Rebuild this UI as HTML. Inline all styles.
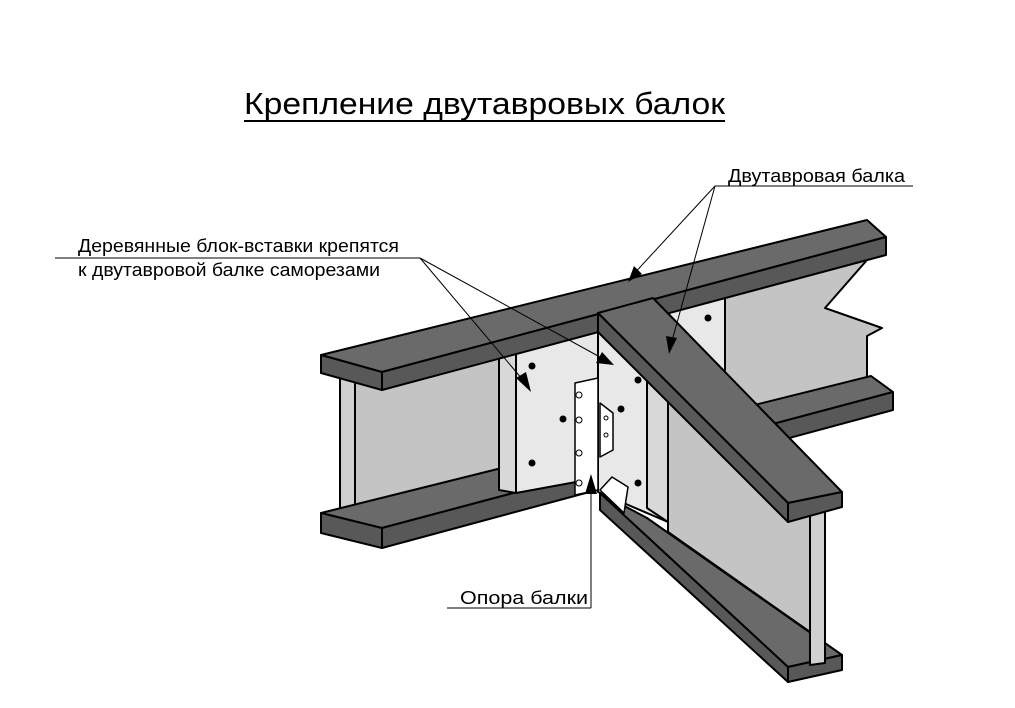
<!DOCTYPE html>
<html><head><meta charset="utf-8"><style>
html,body{margin:0;padding:0;background:#fff;}
svg{display:block;}
text{font-family:"Liberation Sans",Arial,sans-serif;fill:#000;}
</style></head><body>
<svg width="1015" height="708" viewBox="0 0 1015 708" xmlns="http://www.w3.org/2000/svg">
<rect width="1015" height="708" fill="#fff"/>
<text x="244" y="114" font-size="31" textLength="481" lengthAdjust="spacingAndGlyphs">Крепление двутавровых балок</text>
<line x1="244" y1="121" x2="725" y2="121" stroke="#000" stroke-width="2"/>

<g stroke="#000" stroke-width="2" stroke-linejoin="round">
<polygon points="340,373 867,238 867,260 825,308 882,328 867,336 867,392 340,530" fill="#c4c4c4"/>
<polygon points="340,375 355,378 355,528 340,531" fill="#d0d0d0"/>
<polygon points="321,513 871,376 893,392 382,528" fill="#6a6a6a"/>
<polygon points="382,528 893,392 893,410 382,548" fill="#585858"/>
<polygon points="321,513 382,528 382,548 321,533" fill="#585858"/>
<polygon points="499,353 516,349 516,493 499,490" fill="#d8d8d8"/>
<polygon points="516,349 598,330 598,478 516,493" fill="#e8e8e8"/>
<polygon points="598,318 668,300 668,522 598,492" fill="#e8e8e8"/>
<polygon points="647,330 668,325 668,522 647,508" fill="#d8d8d8"/>
<polygon points="668,300 725,286 725,370 668,390" fill="#e8e8e8"/>
<polygon points="321,355 867,220 886,237 382,372" fill="#6a6a6a"/>
<polygon points="382,372 886,237 886,255 382,390" fill="#585858"/>
<polygon points="321,355 382,372 382,390 321,373" fill="#585858"/>
<polygon points="600,493 647,518 842,655 788,667" fill="#6a6a6a"/>
<polygon points="600,493 788,667 788,682 600,510" fill="#585858"/>
<polygon points="788,667 842,655 842,670 788,682" fill="#585858"/>
<polygon points="668,403 660,345 810,490 810,632 668,532" fill="#c4c4c4"/>
<polygon points="810,507 825,504 825,663 810,665" fill="#d0d0d0"/>
<polygon points="598,313 653,298 842,492 788,503" fill="#6a6a6a"/>
<polygon points="598,313 788,503 788,522 598,332" fill="#585858"/>
<polygon points="788,503 842,492 842,507 788,522" fill="#585858"/>
<polygon points="575,383 598,378 598,490 575,495" fill="#fff" stroke-width="1.5"/>
<polygon points="600,403 613,413 613,450 600,457" fill="#fff" stroke-width="1.5"/>
<polygon points="600,490 612,477 628,487 624,513" fill="#fff" stroke-width="1.5"/>
</g>
<g fill="none" stroke="#000" stroke-width="1">
<circle cx="579" cy="395" r="3"/><circle cx="579" cy="420" r="3"/><circle cx="579" cy="453" r="3"/><circle cx="579" cy="483" r="3"/>
<circle cx="606" cy="418" r="2"/><circle cx="606" cy="435" r="2"/>
</g>
<g fill="#000">
<circle cx="532" cy="366" r="3.5"/><circle cx="638" cy="380" r="3.5"/><circle cx="621" cy="409" r="3.5"/>
<circle cx="563" cy="419" r="3.5"/><circle cx="532" cy="463" r="3.5"/><circle cx="638" cy="483" r="3.5"/><circle cx="708" cy="318" r="3.5"/>
</g>

<text x="728" y="182" font-size="18" textLength="177" lengthAdjust="spacingAndGlyphs">Двутавровая балка</text>
<line x1="715" y1="186" x2="913" y2="186" stroke="#000" stroke-width="1"/>
<line x1="715" y1="186" x2="630" y2="278" stroke="#000" stroke-width="1"/>
<line x1="715" y1="186" x2="670" y2="348" stroke="#000" stroke-width="1"/>
<polygon points="628,282 634,266 642,274" fill="#000"/>
<polygon points="669,354 666,336 677,338" fill="#000"/>

<text x="78" y="252" font-size="18" textLength="321" lengthAdjust="spacingAndGlyphs">Деревянные блок-вставки крепятся</text>
<text x="78" y="276" font-size="18" textLength="302" lengthAdjust="spacingAndGlyphs">к двутавровой балке саморезами</text>
<line x1="55" y1="258" x2="420" y2="258" stroke="#000" stroke-width="1"/>
<line x1="420" y1="258" x2="528" y2="386" stroke="#000" stroke-width="1"/>
<line x1="420" y1="258" x2="609" y2="362" stroke="#000" stroke-width="1"/>
<polygon points="531,392 516,378 526,372" fill="#000"/>
<polygon points="614,365 596,363 602,352" fill="#000"/>

<text x="460" y="604" font-size="18" textLength="128" lengthAdjust="spacingAndGlyphs">Опора балки</text>
<line x1="447" y1="608" x2="591" y2="608" stroke="#000" stroke-width="1"/>
<line x1="591" y1="608" x2="591" y2="490" stroke="#000" stroke-width="1"/>
<polygon points="591,474 585,494 597,494" fill="#000"/>
</svg>
</body></html>
